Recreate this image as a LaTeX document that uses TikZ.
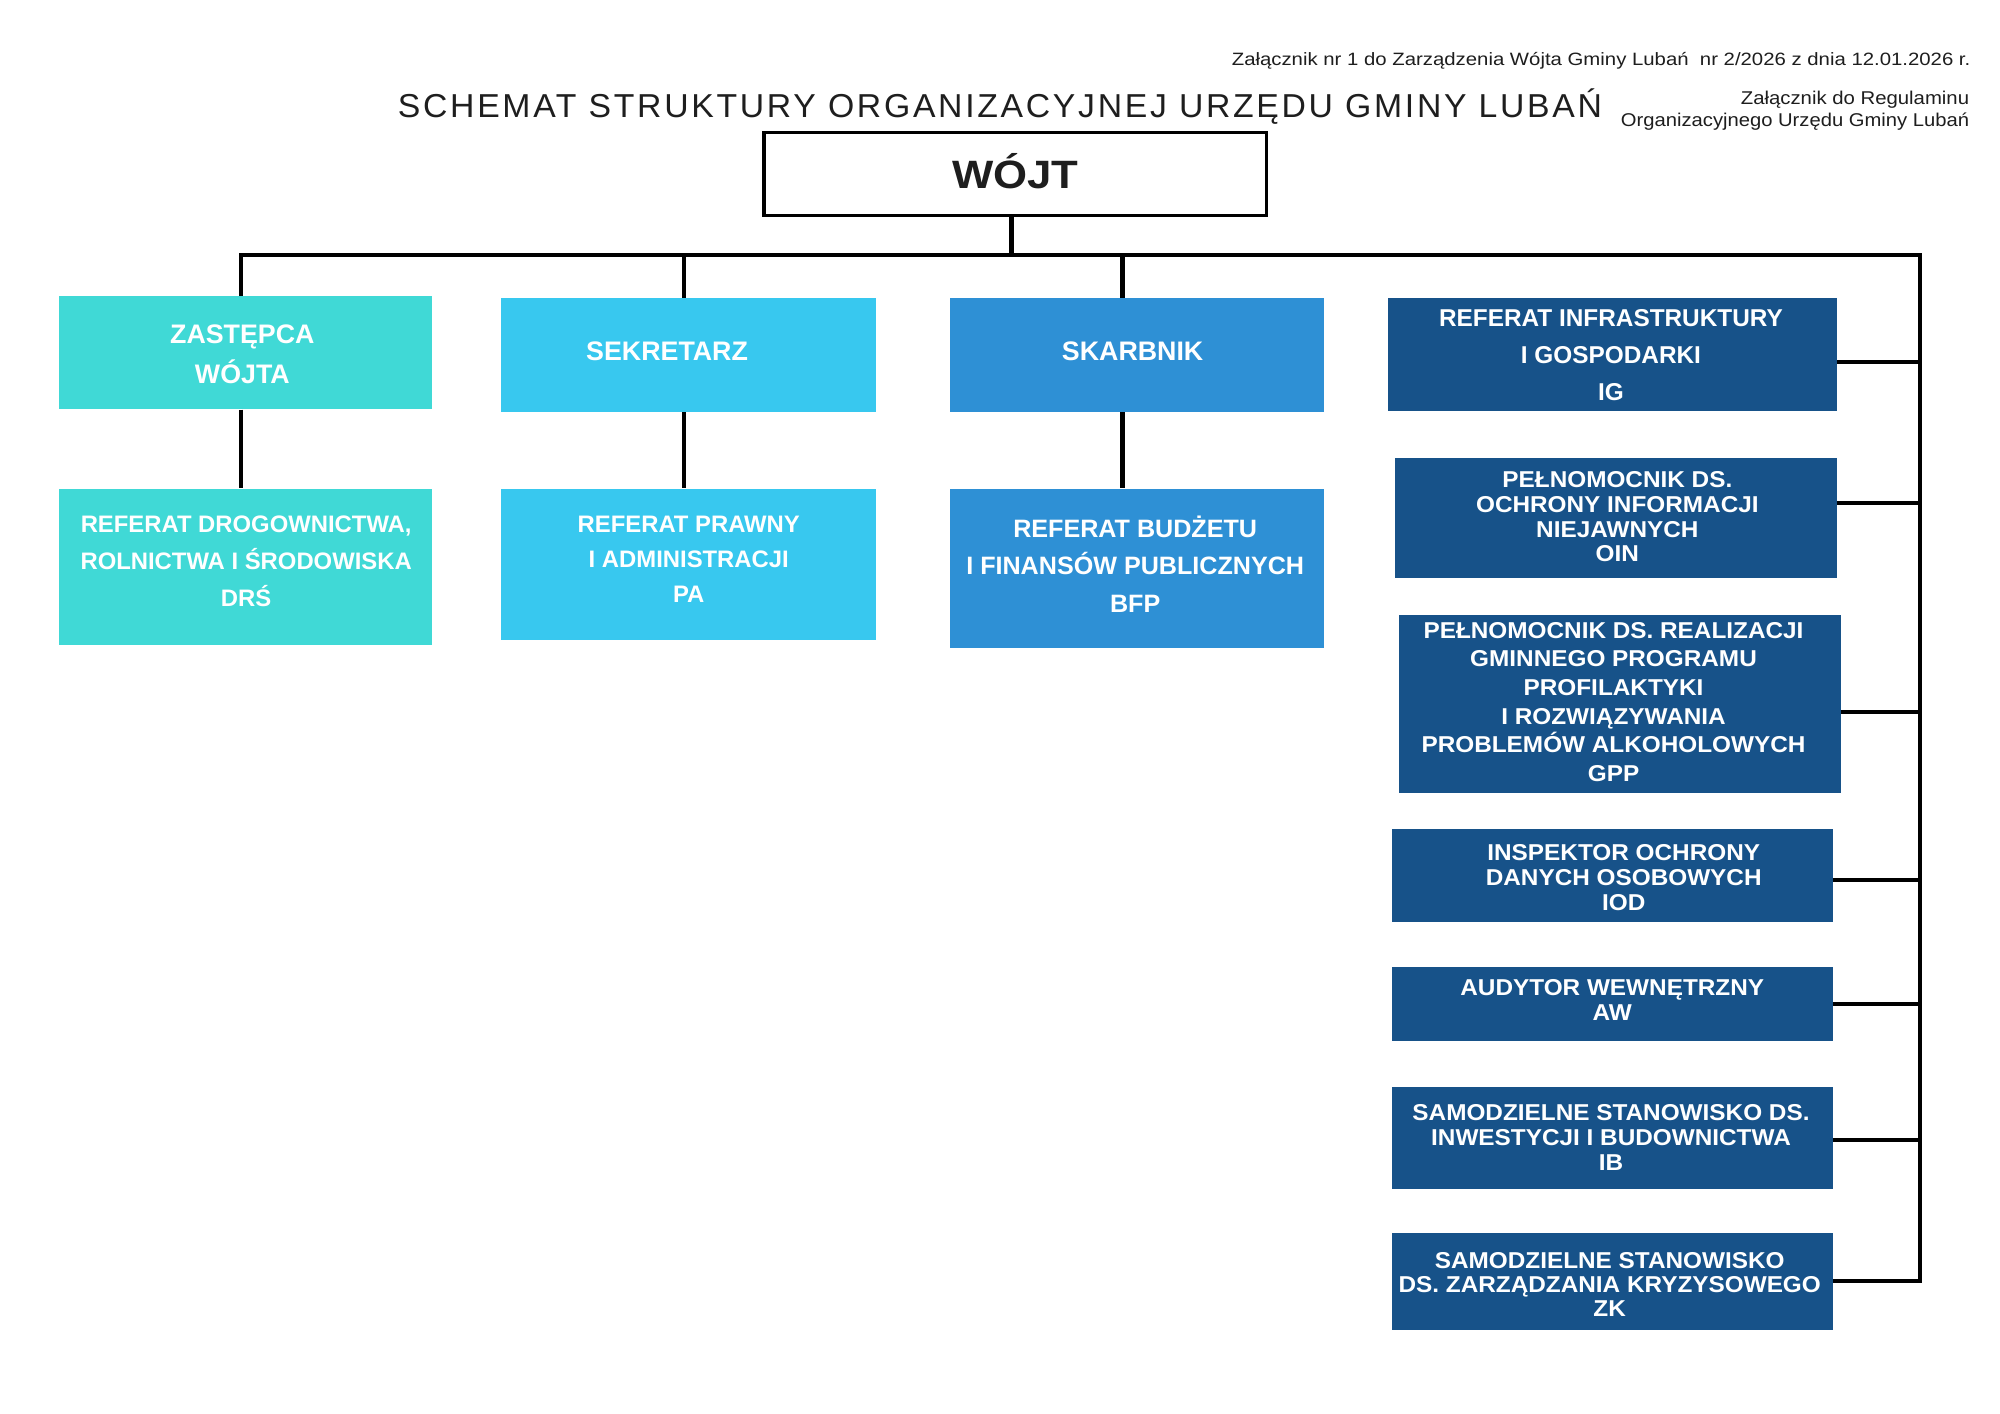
\documentclass[tikz,border=0pt]{standalone}
\usepackage{fontspec}
\usepackage{graphicx}
\setmainfont{Liberation Sans}
\newfontfamily\fA{Liberation Sans}
\newfontfamily\fW{Liberation Sans}[FakeStretch=1.06]
\newfontfamily\fT{Liberation Sans}[LetterSpace=8]
\definecolor{cturq}{HTML}{40D9D6}
\definecolor{csky}{HTML}{38C8EF}
\definecolor{cmid}{HTML}{2E90D5}
\definecolor{cdark}{HTML}{175289}
\definecolor{ctxt}{HTML}{1E1E1E}
\newcommand\Tp{\rule{0pt}{1.016em}}
\newcommand\Bt{\rule[-0.3em]{0pt}{0.3em}}
\newcommand\fs[2]{\fontsize{#1}{#2}\selectfont}
\begin{document}
\begin{tikzpicture}[x=1pt,y=-1pt,
  box/.style={rectangle,inner sep=0pt,draw=none},
  lbl/.style={inner sep=0pt,text=white,align=center},
  conn/.style={line width=3.2pt,black},
  hdr/.style={inner sep=0pt,text=ctxt}]
\useasboundingbox (0,0) rectangle (1568,1108.5);
\fill[white] (0,0) rectangle (1568,1108.5);

% headers
\node[hdr,anchor=base east] (hdr1) at (1545,51) {\resizebox{579pt}{\height}{\fs{14}{14}Załącznik nr 1 do Zarządzenia Wójta Gminy Lubań\ \ nr 2/2026 z dnia 12.01.2026 r.}};
\node[hdr,anchor=base east] (hdr2) at (1544,82) {\resizebox{179pt}{\height}{\fs{14.5}{14.5}Załącznik do Regulaminu}};
\node[hdr,anchor=base east] (hdr3) at (1544,99) {\resizebox{273pt}{\height}{\fs{14.5}{14.5}Organizacyjnego Urzędu Gminy Lubań}};
\node[hdr,anchor=base] (title) at (784,92.5) {\resizebox{944pt}{\height}{\fT\fs{26}{26}SCHEMAT STRUKTURY ORGANIZACYJNEJ URZĘDU GMINY LUBAŃ}};

% WOJT
\node[rectangle,draw=black,line width=2.6pt,fill=white,minimum width=394pt,minimum height=65pt,inner sep=0pt,text=ctxt,font={\fA\bfseries\fs{31}{31}}] (wojt) at (796,136.5) {\resizebox{99pt}{\height}{\Tp WÓJT\Bt}};

% boxes
\node[box,fill=cturq,minimum width=293pt,minimum height=89pt] (zas) at (192.5,276.5) {};
\node[box,fill=csky,minimum width=294pt,minimum height=89pt] (sek) at (540,278.5) {};
\node[box,fill=cmid,minimum width=293pt,minimum height=89pt] (ska) at (891.5,278.5) {};
\node[box,fill=cdark,minimum width=352pt,minimum height=88pt] (ig) at (1264,278) {};
\node[box,fill=cturq,minimum width=293pt,minimum height=123pt] (drs) at (192.5,444.5) {};
\node[box,fill=csky,minimum width=294pt,minimum height=119pt] (pa) at (540,442.5) {};
\node[box,fill=cmid,minimum width=293pt,minimum height=125pt] (bfp) at (891.5,445.5) {};
\node[box,fill=cdark,minimum width=346pt,minimum height=94pt] (oin) at (1267,406) {};
\node[box,fill=cdark,minimum width=346pt,minimum height=140pt] (gpp) at (1270,552) {};
\node[box,fill=cdark,minimum width=346pt,minimum height=73pt] (iod) at (1264,686.5) {};
\node[box,fill=cdark,minimum width=346pt,minimum height=58pt] (aw) at (1264,787) {};
\node[box,fill=cdark,minimum width=346pt,minimum height=80pt] (ib) at (1264,892) {};
\node[box,fill=cdark,minimum width=346pt,minimum height=76pt] (zk) at (1264,1005) {};

% labels
\node[lbl,font={\fA\bfseries\fs{21}{31}}] (zast) at (190,277.5) {\Tp ZASTĘPCA\\WÓJTA\Bt};
\node[lbl,font={\fA\bfseries\fs{21}{21}}] (sekt) at (523,275) {\Tp SEKRETARZ\Bt};
\node[lbl,font={\fA\bfseries\fs{21}{21}}] (skat) at (888,275) {\Tp SKARBNIK\Bt};
\node[lbl,font={\fA\bfseries\fs{19.1}{29}}] (igt) at (1263,278) {\Tp REFERAT INFRASTRUKTURY\\I GOSPODARKI\\IG\Bt};
\node[lbl,font={\fA\bfseries\fs{18.7}{29}}] (drst) at (193,440) {\Tp REFERAT DROGOWNICTWA,\\ROLNICTWA I ŚRODOWISKA\\DRŚ\Bt};
\node[lbl,font={\fA\bfseries\fs{18.7}{27.5}}] (pat) at (540,438.5) {\Tp REFERAT PRAWNY\\I ADMINISTRACJI\\PA\Bt};
\node[lbl,font={\fA\bfseries\fs{19.7}{29.5}}] (bfpt) at (890,443.5) {\Tp REFERAT BUDŻETU\\I FINANSÓW PUBLICZNYCH\\BFP\Bt};
\node[lbl,font={\fW\bfseries\fs{18}{19.3}}] (oint) at (1268,405) {\Tp PEŁNOMOCNIK DS.\\OCHRONY INFORMACJI\\NIEJAWNYCH\\OIN\Bt};
\node[lbl,font={\fW\bfseries\fs{18}{22.4}}] (gppt) at (1265,550) {\Tp PEŁNOMOCNIK DS. REALIZACJI\\GMINNEGO PROGRAMU\\PROFILAKTYKI\\I ROZWIĄZYWANIA\\PROBLEMÓW ALKOHOLOWYCH\\GPP\Bt};
\node[lbl,font={\fW\bfseries\fs{18}{19.5}}] (iodt) at (1273,687.5) {\Tp INSPEKTOR OCHRONY\\DANYCH OSOBOWYCH\\IOD\Bt};
\node[lbl,font={\fW\bfseries\fs{18}{20}}] (awt) at (1264,784) {\Tp AUDYTOR WEWNĘTRZNY\\AW\Bt};
\node[lbl,font={\fW\bfseries\fs{18}{19.5}}] (ibt) at (1263,891.5) {\Tp SAMODZIELNE STANOWISKO DS.\\INWESTYCJI I BUDOWNICTWA\\IB\Bt};
\node[lbl,font={\fW\bfseries\fs{18}{19}}] (zkt) at (1262,1007) {\Tp SAMODZIELNE STANOWISKO\\DS. ZARZĄDZANIA KRYZYSOWEGO\\ZK\Bt};

% connector coordinates
\coordinate (b0) at (793,200);
\coordinate (dz) at (189,200);
\coordinate (ds) at (536,200);
\coordinate (dk) at (880,200);
\coordinate (rb) at (1505,200);
\coordinate (cIG) at (1505,284);
\coordinate (cOIN) at (1505,394);
\coordinate (cGPP) at (1505,558);
\coordinate (cIOD) at (1505,690);
\coordinate (cAW) at (1505,787);
\coordinate (cIB) at (1505,894);
\coordinate (cZK) at (1505,1004);

% connectors
\draw[conn] (b0 |- wojt.south) -- (b0);
\draw[conn] (dz |- zas.north) -- (dz) -- (rb) -- (cZK) -- (zk.east |- cZK);
\draw[conn] (ds) -- (ds |- sek.north);
\draw[conn] (dk) -- (dk |- ska.north);
\draw[conn] (dz |- zas.south) -- (dz |- drs.north);
\draw[conn] (ds |- sek.south) -- (ds |- pa.north);
\draw[conn] (dk |- ska.south) -- (dk |- bfp.north);
\draw[conn] (ig.east |- cIG) -- (cIG);
\draw[conn] (oin.east |- cOIN) -- (cOIN);
\draw[conn] (gpp.east |- cGPP) -- (cGPP);
\draw[conn] (iod.east |- cIOD) -- (cIOD);
\draw[conn] (aw.east |- cAW) -- (cAW);
\draw[conn] (ib.east |- cIB) -- (cIB);
\end{tikzpicture}
\end{document}
